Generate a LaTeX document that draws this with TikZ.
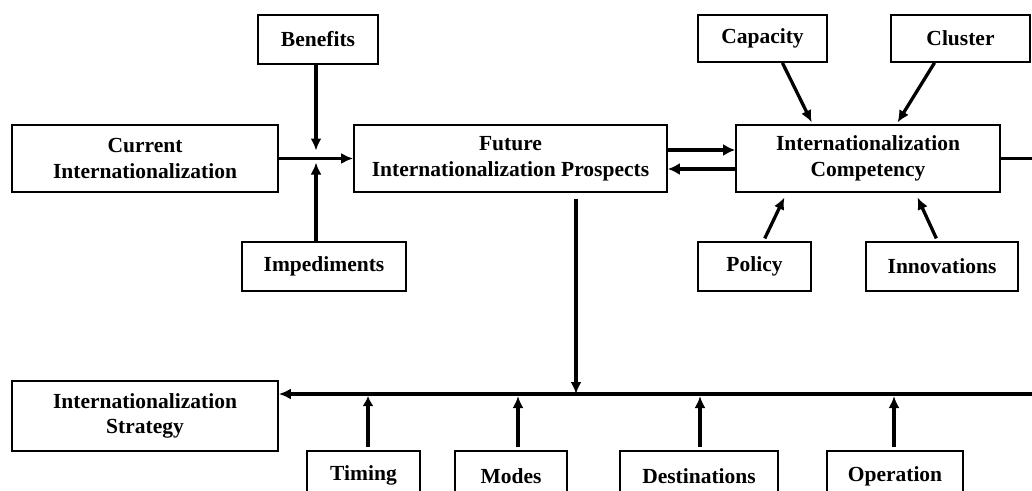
\documentclass[tikz,border=0pt]{standalone}
\usepackage{fontspec}
\setmainfont{Liberation Serif}
\usetikzlibrary{arrows.meta,calc}

\tikzset{
  box/.style={draw, line width=1.7pt, inner sep=0pt, align=center,
    font=\fontsize{21.5}{25.5}\selectfont\bfseries},
  arr/.style={line width=3.3pt, -{Latex[length=12pt,width=11pt]}},
  link/.style={line width=3.3pt}
}

\begin{document}
\begin{tikzpicture}[x=1pt,y=-1pt]
  \useasboundingbox (0,0) rectangle (1032,490);
  \clip (0,0) rectangle (1032,490);
  \fill[white] (0,0) rectangle (1032,490);

  % upper row
  \node[box, minimum width=120pt, minimum height=49pt] (ben) at (318,39.5) {Benefits};
  \node[box, minimum width=266pt, minimum height=67pt] (cur) at (145,158.5) {Current\\Internationalization};
  \node[box, minimum width=313pt, minimum height=67pt] (fut) at (510.5,158.5) {Future\\Internationalization Prospects};
  \node[box, minimum width=164pt, minimum height=49pt] (imp) at (324,266.5) {Impediments};

  \node[box, minimum width=129pt, minimum height=47pt] (cap) at (762.5,38.5) {Capacity};
  \node[box, minimum width=139pt, minimum height=47pt] (clu) at (960.5,38.5) {Cluster};
  \node[box, minimum width=264pt, minimum height=67pt] (comp) at (868,158.5) {Internationalization\\Competency};
  \node[box, minimum width=113pt, minimum height=49pt] (pol) at (754.5,266.5) {Policy};
  \node[box, minimum width=152pt, minimum height=49pt] (inn) at (942,266.5) {Innovations};

  % lower row
  \node[box, minimum width=266pt, minimum height=70pt] (str) at (145,416) {Internationalization\\Strategy};
  \node[box, minimum width=113pt, minimum height=50pt, anchor=north] (tim) at (363.5,450) {Timing};
  \node[box, minimum width=112pt, minimum height=50pt, anchor=north] (mod) at (511,450) {Modes};
  \node[box, minimum width=158pt, minimum height=50pt, anchor=north] (dst) at (699,450) {Destinations};
  \node[box, minimum width=136pt, minimum height=50pt, anchor=north] (ope) at (895,450) {Operation};

  % junction points
  \coordinate (j1) at (316,158.5);
  \coordinate (busR) at (1040,394);
  \coordinate (fdrop) at (576,394);

  % current prospects
  \draw[arr] (cur.east) -- (fut.west);
  \draw[arr, shorten >=8pt] (ben.south -| j1) -- (j1);
  \draw[arr, shorten >=4pt] (imp.north -| j1) -- (j1);

  % prospects and competency
  \draw[line width=4.8pt, -{Latex[length=12pt,width=12pt]}] ([yshift=8.5pt]fut.east) -- ([yshift=8.5pt]comp.west);
  \draw[line width=4.2pt, -{Latex[length=12pt,width=12pt]}] ([yshift=-10.5pt]comp.west) -- ([yshift=-10.5pt]fut.east);
  \draw[link] (comp.east) -- (comp.east -| busR);

  % competency drivers
  \draw[arr, shorten <=1pt, shorten >=3pt] (782,62) -- (813,125);
  \draw[arr, shorten <=1pt, shorten >=3pt] (935,62) -- (896,125);
  \draw[arr, shorten <=4pt, shorten >=6pt] (763,242) -- (787,192);
  \draw[arr, shorten <=4pt, shorten >=6pt] (938,242) -- (915,192);

  % strategy bus
  \draw[arr] (busR) -- (str.east |- busR);
  \draw[arr, shorten <=6pt, shorten >=0pt] (fut.south -| fdrop) -- (fdrop);
  \draw[line width=4.8pt, -{Latex[length=10pt,width=11pt]}, shorten <=3pt] (tim.north -| 368,0) -- (368,396);
  \draw[arr, shorten <=3pt] (mod.north -| 518,0) -- (518,396);
  \draw[arr, shorten <=3pt] (dst.north -| 700,0) -- (700,396);
  \draw[arr, shorten <=3pt] (ope.north -| 894,0) -- (894,396);
\end{tikzpicture}
\end{document}
